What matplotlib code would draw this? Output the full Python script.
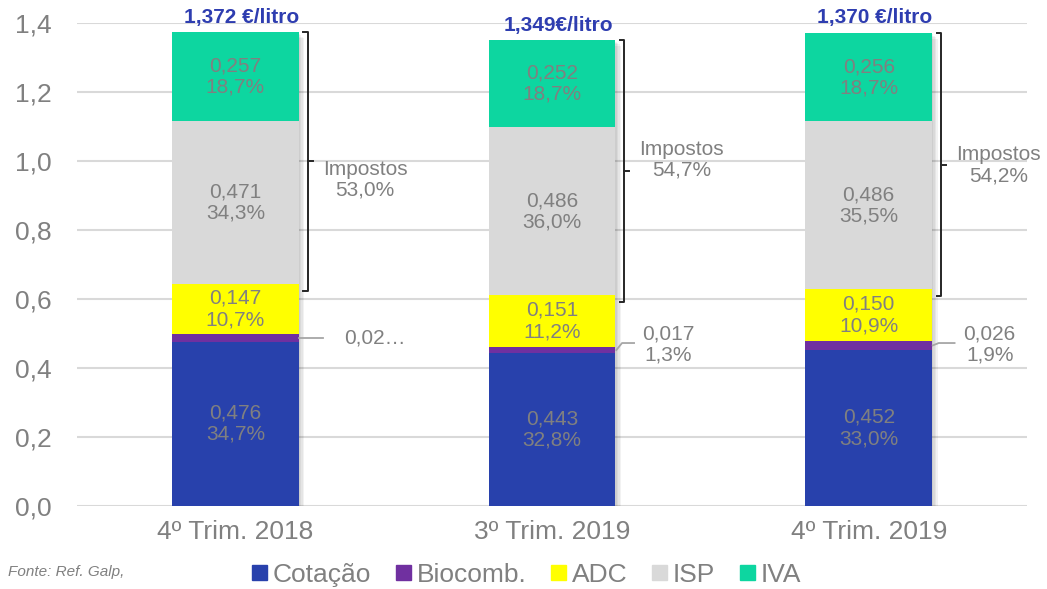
import numpy as np
import matplotlib
matplotlib.use('Agg')
import matplotlib.pyplot as plt
import matplotlib.patheffects as pe
from matplotlib.patches import Patch
from matplotlib.ticker import FuncFormatter

# data
periods = ['4º Trim. 2018', '3º Trim. 2019', '4º Trim. 2019']
components = ['Cotação', 'Biocomb.', 'ADC', 'ISP', 'IVA']
cotacao = [0.476, 0.443, 0.452]
biocomb = [0.021, 0.017, 0.026]
adc = [0.147, 0.151, 0.150]
isp = [0.471, 0.486, 0.486]
iva = [0.257, 0.252, 0.256]
cotacao_pct = [34.7, 32.8, 33.0]
biocomb_pct = [1.5, 1.3, 1.9]
adc_pct = [10.7, 11.2, 10.9]
isp_pct = [34.3, 36.0, 35.5]
iva_pct = [18.7, 18.7, 18.7]
impostos_pct = [53.0, 54.7, 54.2]
total_labels = ['1,372 €/litro', '1,349€/litro', '1,370 €/litro']
colors = ['#2841AC', '#7030A0', '#FFFF00', '#D9D9D9', '#0DD6A0']

plt.rcParams['font.family'] = ['Liberation Sans', 'DejaVu Sans']
grey = '#808080'


def num(v, d=3):
    return f'{v:.{d}f}'.replace('.', ',')


fig = plt.figure(figsize=(10.47, 5.89), dpi=100)
ax = fig.add_axes([0.0735, 0.141, 0.9075, 0.8205])

pos = np.arange(len(periods))
width = 0.4
series = [cotacao, biocomb, adc, isp, iva]
pcts = [cotacao_pct, biocomb_pct, adc_pct, isp_pct, iva_pct]
totals = np.sum(series, axis=0)

# soft shadow behind the whole stack
shadow = [pe.SimplePatchShadow(offset=(o, -o), shadow_rgbFace='black', alpha=0.05) for o in (1, 2, 3, 4)]
ax.bar(pos, totals, width, color='white', zorder=2, path_effects=shadow + [pe.Normal()])

bottom = np.zeros(len(periods))
for k, (vals, col) in enumerate(zip(series, colors)):
    ax.bar(pos, vals, width, bottom=bottom, color=col, zorder=3)
    if k != 1:
        for i in range(len(pos)):
            ax.text(pos[i], bottom[i] + vals[i] / 2,
                    num(vals[i]) + '\n' + num(pcts[k][i], 1) + '%',
                    ha='center', va='center', fontsize=15, color=grey,
                    linespacing=1.15, zorder=4)
    bottom = bottom + np.array(vals)

# totals above bars
for i in range(len(pos)):
    ax.annotate(total_labels[i], (pos[i] + 0.02, totals[i]), xytext=(0, 11),
                textcoords='offset points', ha='center', va='center',
                fontsize=15, fontweight='bold', color='#2E3DB0',
                annotation_clip=False)

# brackets for taxes
adc_top = np.array(cotacao) + np.array(biocomb) + np.array(adc)
label_y = [0.945, 1.003, 0.988]
for i in range(len(pos)):
    bx = pos[i] + 0.228
    top, bot = totals[i], adc_top[i] - 0.02
    mid = (top + bot) / 2
    ax.plot([bx - 0.014, bx, bx, bx - 0.014], [top, top, bot, bot],
            color='#262626', lw=1.4, zorder=4, clip_on=False)
    ax.plot([bx, bx + 0.016], [mid, mid], color='#262626', lw=1.4, zorder=4)
    ax.text(pos[i] + 0.41, label_y[i], 'Impostos\n' + num(impostos_pct[i], 1) + '%',
            ha='center', va='center', fontsize=15, color=grey, linespacing=1.15)

# biocomb callouts
bio_mid = np.array(cotacao) + np.array(biocomb) / 2
ax.plot([0.2, 0.278], [bio_mid[0], bio_mid[0]], color='#A6A6A6', lw=1.3, zorder=4)
ax.text(0.344, bio_mid[0], num(biocomb[0], 2) + '…', ha='left', va='center',
        fontsize=15, color=grey)
ax.plot([1.203, 1.221, 1.259], [bio_mid[1], 0.472, 0.472], color='#A6A6A6', lw=1.3, zorder=4)
ax.text(1.366, 0.467, num(biocomb[1]) + '\n' + num(biocomb_pct[1], 1) + '%',
        ha='center', va='center', fontsize=15, color=grey, linespacing=1.15)
ax.plot([2.202, 2.221, 2.271], [bio_mid[2], 0.472, 0.472], color='#A6A6A6', lw=1.3, zorder=4)
ax.text(2.382, 0.467, num(biocomb[2]) + '\n' + num(biocomb_pct[2], 1) + '%',
        ha='center', va='center', fontsize=15, color=grey, linespacing=1.15)

ax.set_xlim(-0.5, 2.5)
ax.set_ylim(0, 1.4)
ax.set_yticks(np.arange(0, 1.41, 0.2))
ax.yaxis.set_major_formatter(FuncFormatter(lambda v, p: num(v, 1)))
ax.set_xticks(pos)
ax.set_xticklabels(periods)
ax.tick_params(axis='y', length=0, pad=18, labelsize=19, labelcolor=grey)
ax.tick_params(axis='x', length=0, pad=10, labelsize=19, labelcolor=grey)
ax.yaxis.grid(True, color='#D9D9D9', lw=1.5)
ax.set_axisbelow(True)
for s in ax.spines.values():
    s.set_visible(False)

handles = [Patch(color=c) for c in colors]
fig.legend(handles, components, loc='center', bbox_to_anchor=(0.503, 0.024),
           ncol=5, frameon=False, fontsize=19, labelcolor=grey,
           handlelength=0.55, handleheight=0.55, handletextpad=0.22,
           columnspacing=0.95, borderpad=0)

fig.text(0.008, 0.029, 'Fonte: Ref. Galp,', fontsize=11, style='italic',
         color=grey, va='center', ha='left')

fig.savefig('out.png', dpi=100)
